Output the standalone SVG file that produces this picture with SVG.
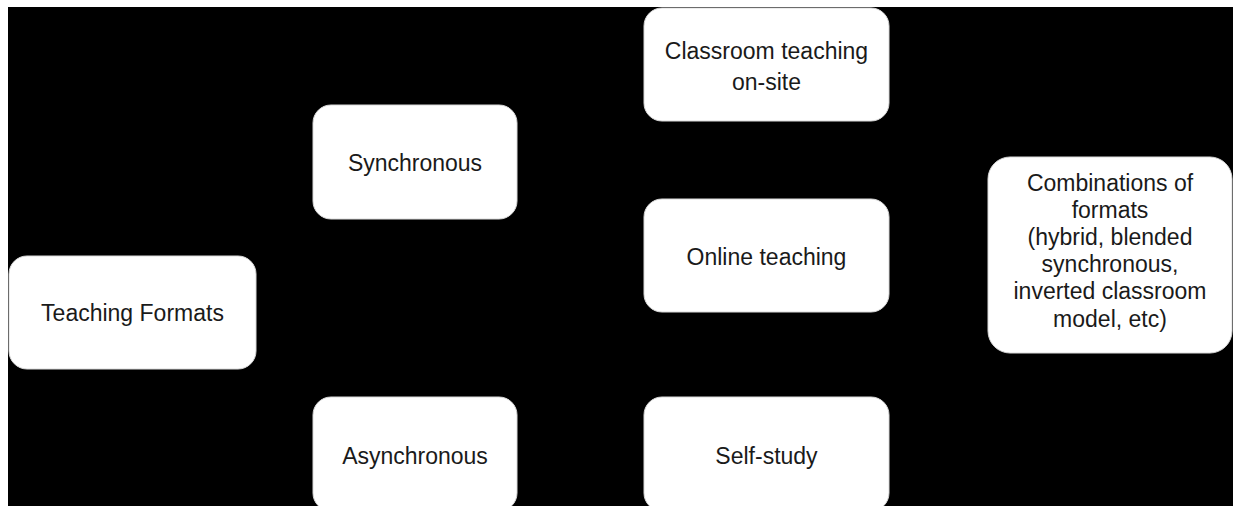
<svg xmlns="http://www.w3.org/2000/svg" width="1233" height="506" viewBox="0 0 1233 506">
  <style>
    .box { fill: #ffffff; stroke: #d9d9d9; stroke-width: 1; }
    .label { font-family: "Liberation Sans", Arial, sans-serif; font-size: 23px; fill: #1a1a1a; text-anchor: middle; }
  </style>
  <!-- page margin and dark canvas -->
  <rect x="0" y="0" width="1233" height="506" fill="#ffffff"/>
  <rect x="8" y="7" width="1225" height="499" fill="#000000"/>

  <g id="connectors"></g>

  <g id="teaching-formats">
    <rect class="box" x="9" y="256" width="247" height="113" rx="18"/>
    <text class="label" x="132.5" y="321">Teaching Formats</text>
  </g>

  <g id="synchronous">
    <rect class="box" x="313" y="105" width="204" height="114" rx="18"/>
    <text class="label" x="415" y="171">Synchronous</text>
  </g>

  <g id="asynchronous">
    <rect class="box" x="313" y="397" width="204" height="114" rx="18"/>
    <text class="label" x="415" y="464">Asynchronous</text>
  </g>

  <g id="classroom-teaching">
    <rect class="box" x="644" y="8" width="245" height="113" rx="18"/>
    <text class="label" x="766.5" y="59">Classroom teaching</text>
    <text class="label" x="766.5" y="90">on-site</text>
  </g>

  <g id="online-teaching">
    <rect class="box" x="644" y="199" width="245" height="113" rx="18"/>
    <text class="label" x="766.5" y="265">Online teaching</text>
  </g>

  <g id="self-study">
    <rect class="box" x="644" y="397" width="245" height="114" rx="18"/>
    <text class="label" x="766.5" y="464">Self-study</text>
  </g>

  <g id="combinations">
    <rect class="box" x="988" y="157" width="244" height="196" rx="22"/>
    <text class="label" x="1110" y="191">Combinations of</text>
    <text class="label" x="1110" y="218">formats</text>
    <text class="label" x="1110" y="245">(hybrid, blended</text>
    <text class="label" x="1110" y="272">synchronous,</text>
    <text class="label" x="1110" y="299">inverted classroom</text>
    <text class="label" x="1110" y="327">model, etc)</text>
  </g>
</svg>
